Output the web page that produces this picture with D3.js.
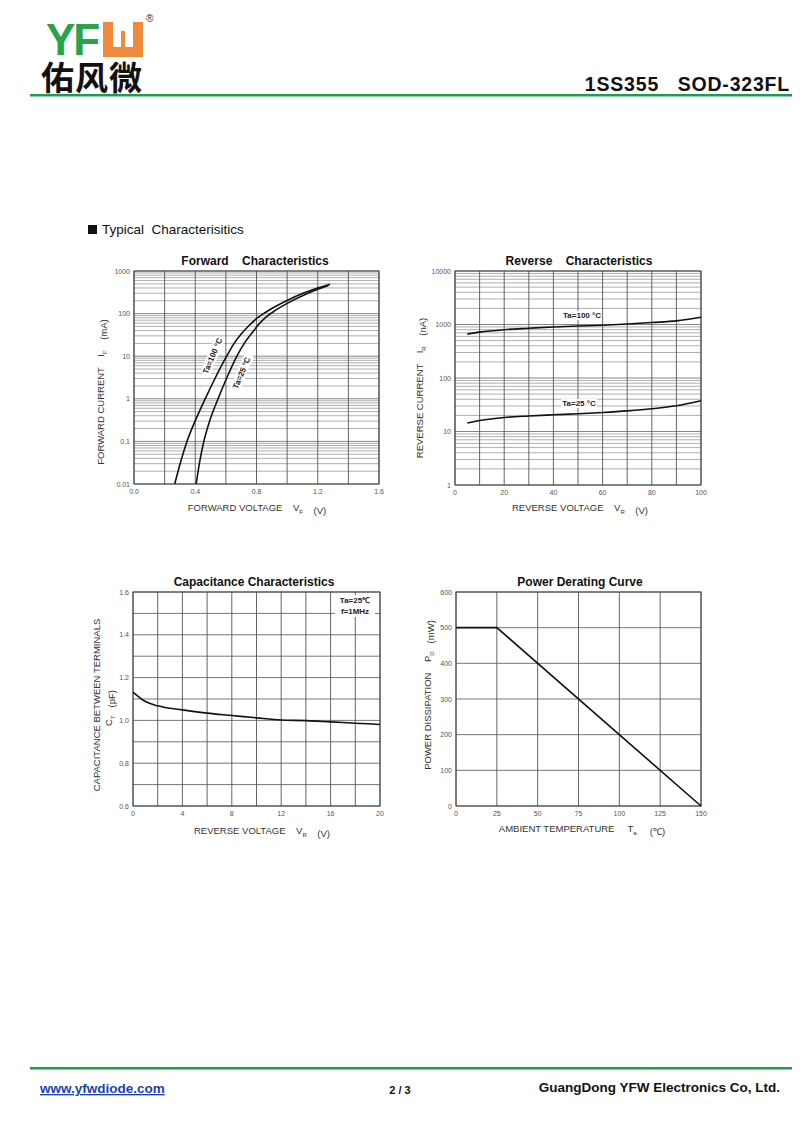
<!DOCTYPE html>
<html>
<head>
<meta charset="utf-8">
<script src="https://cdn.jsdelivr.net/npm/d3@7"></script>
<style>
  html, body { margin: 0; padding: 0; background: #fff; }
  svg { display: block; font-family: "Liberation Sans", Arial, sans-serif; }
  text { white-space: pre; }
</style>
</head>
<body>
<svg id="page" width="800" height="1130"></svg>
<script>
const fwdV100 = [0.266, 0.303, 0.346, 0.402, 0.465, 0.532, 0.605, 0.65, 0.70, 0.75, 0.80, 0.85, 0.90, 1.00, 1.10, 1.20, 1.28];
const fwdI100 = [0.01, 0.0316, 0.1, 0.316, 1, 3.16, 10, 19, 33, 52, 76, 102, 132, 204, 295, 398, 490];
const fwdV25 = [0.406, 0.428, 0.456, 0.496, 0.549, 0.607, 0.672, 0.72, 0.77, 0.82, 0.87, 0.92, 1.00, 1.10, 1.20, 1.27];
const fwdI25 = [0.01, 0.0316, 0.1, 0.316, 1, 3.16, 10, 20, 35, 59, 87, 117, 174, 263, 372, 457];
const fwdXTicks = [0.0, 0.4, 0.8, 1.2, 1.6];
const fwdYTicks = [0.01, 0.1, 1, 10, 100, 1000];
const fwdYLabels = ['0.01', '0.1', '1', '10', '100', '1000'];

const revV = [5, 10, 20, 30, 40, 50, 60, 70, 80, 90, 100];
const rev100 = [660, 720, 800, 850, 900, 935, 968, 1020, 1087, 1167, 1365];
const rev25 = [14.4, 16, 18.3, 19.5, 20.5, 21.5, 22.7, 24.3, 26.6, 30.2, 37.5];
const revXTicks = [0, 20, 40, 60, 80, 100];
const revYTicks = [1, 10, 100, 1000, 10000];

const capV = [0, 1, 2, 4, 6, 8, 10, 12, 14, 16, 18, 20];
const capC = [1.132, 1.088, 1.068, 1.049, 1.034, 1.023, 1.012, 1.002, 0.999, 0.993, 0.987, 0.981];
const capXTicks = [0, 4, 8, 12, 16, 20];
const capYTicks = [0.6, 0.8, 1.0, 1.2, 1.4, 1.6];

const powT = [0, 25, 150];
const powP = [500, 500, 0];
const powXTicks = [0, 25, 50, 75, 100, 125, 150];
const powYTicks = [0, 100, 200, 300, 400, 500, 600];

const GREEN = '#1f9a4e';
const ORANGE = '#ee8a3c';
const svg = d3.select('#page');

// --- En-tête ---
svg.append('text').attr('x', 46).attr('y', 55)
  .style('font-size', '44px').style('font-weight', 'bold').style('fill', '#2aa34a')
  .style('letter-spacing', '-2px').text('YF');
const logoW = svg.append('g');
logoW.append('rect').attr('x', 103).attr('y', 22).attr('width', 40).attr('height', 35).attr('fill', ORANGE);
logoW.append('rect').attr('x', 113).attr('y', 22).attr('width', 20).attr('height', 25).attr('fill', '#fff');
logoW.append('rect').attr('x', 121).attr('y', 31).attr('width', 4).attr('height', 16).attr('fill', ORANGE);
svg.append('text').attr('x', 146).attr('y', 22).style('font-size', '10px').style('fill', '#333').text('®');
svg.append('text').attr('x', 41).attr('y', 90)
  .style('font-family', '"Noto Sans CJK SC", sans-serif').style('font-size', '33px').style('font-weight', 'bold')
  .style('letter-spacing', '1px').style('fill', '#111').text('佑风微');
svg.append('text').attr('x', 790).attr('y', 91).attr('text-anchor', 'end')
  .style('font-size', '19.5px').style('font-weight', 'bold').style('letter-spacing', '0.8px')
  .style('fill', '#111').text('1SS355   SOD-323FL');
svg.append('rect').attr('x', 30).attr('y', 94).attr('width', 762).attr('height', 2.5).attr('fill', GREEN);

svg.append('rect').attr('x', 88).attr('y', 225).attr('width', 9).attr('height', 9).attr('fill', '#111');
svg.append('text').attr('x', 102).attr('y', 234).style('font-size', '13.5px').style('fill', '#111')
  .text('Typical  Characterisitics');

// --- Pied de page ---
svg.append('rect').attr('x', 30).attr('y', 1067).attr('width', 762).attr('height', 2.5).attr('fill', GREEN);
svg.append('text').attr('x', 40).attr('y', 1093).style('font-size', '13.5px').style('font-weight', 'bold')
  .style('fill', '#1a3fb8').style('text-decoration', 'underline').text('www.yfwdiode.com');
svg.append('text').attr('x', 400).attr('y', 1094).attr('text-anchor', 'middle')
  .style('font-size', '11px').style('font-weight', 'bold').style('fill', '#111').text('2 / 3');
svg.append('text').attr('x', 780).attr('y', 1092).attr('text-anchor', 'end')
  .style('font-size', '13.5px').style('font-weight', 'bold').style('fill', '#111')
  .text('GuangDong YFW Electronics Co, Ltd.');

// Texte avec indice (V_F, I_R ...)
function labelWithSub(g, parts, attrs) {
  const t = g.append('text').style('font-size', '9.5px').style('fill', '#333');
  Object.entries(attrs).forEach(([k, v]) => t.attr(k, v));
  parts.forEach(p => {
    if (p.sub) {
      t.append('tspan').attr('dy', 3).style('font-size', '6px').text(p.sub);
      t.append('tspan').attr('dy', -3).text('');
    } else {
      t.append('tspan').text(p.t);
    }
  });
  return t;
}

function panel(opt) {
  const g = svg.append('g');
  const x = d3.scaleLinear().domain(opt.xDomain).range([opt.x0, opt.x1]);
  const y = (opt.log ? d3.scaleLog() : d3.scaleLinear()).domain(opt.yDomain).range([opt.y1, opt.y0]);

  // grille horizontale
  let hLines;
  if (opt.log) {
    hLines = [];
    const [lo, hi] = opt.yDomain;
    for (let d = lo; d < hi; d *= 10) for (let k = 2; k <= 9; k++) hLines.push(d * k);
  } else {
    hLines = d3.range(opt.yDomain[0], opt.yDomain[1] + opt.yStep / 2, opt.yStep);
  }
  g.selectAll('line.h').data(hLines).enter().append('line')
    .attr('x1', opt.x0).attr('x2', opt.x1)
    .attr('y1', d => y(d)).attr('y2', d => y(d))
    .attr('stroke', opt.log ? '#9a9a9a' : '#666').attr('stroke-width', opt.log ? 0.8 : 0.9);
  if (opt.log) {
    g.selectAll('line.dec').data(opt.yTicks).enter().append('line')
      .attr('x1', opt.x0).attr('x2', opt.x1)
      .attr('y1', d => y(d)).attr('y2', d => y(d))
      .attr('stroke', '#777').attr('stroke-width', 0.9);
  }
  const vLines = d3.range(opt.xDomain[0], opt.xDomain[1] + opt.xStep / 2, opt.xStep);
  g.selectAll('line.v').data(vLines).enter().append('line')
    .attr('x1', d => x(d)).attr('x2', d => x(d))
    .attr('y1', opt.y0).attr('y2', opt.y1)
    .attr('stroke', '#555').attr('stroke-width', 0.9);
  g.append('rect').attr('x', opt.x0).attr('y', opt.y0)
    .attr('width', opt.x1 - opt.x0).attr('height', opt.y1 - opt.y0)
    .attr('fill', 'none').attr('stroke', '#444').attr('stroke-width', 1);

  // graduations
  g.selectAll('text.xt').data(opt.xTicks).enter().append('text')
    .attr('x', d => x(d)).attr('y', opt.y1 + 10).attr('text-anchor', 'middle')
    .style('font-size', '7px').style('fill', '#555').text((d, i) => opt.xLabels[i]);
  g.selectAll('text.yt').data(opt.yTicks).enter().append('text')
    .attr('x', opt.x0 - 4).attr('y', d => y(d) + 2.5).attr('text-anchor', 'end')
    .style('font-size', '7px').style('fill', '#555').text((d, i) => opt.yLabels[i]);

  // titre
  g.append('text').attr('x', opt.titleX).attr('y', opt.y0 - 6).attr('text-anchor', 'middle')
    .style('font-size', '12px').style('font-weight', 'bold').style('fill', '#111').text(opt.title);

  // courbes
  const smooth = d3.line().x(d => x(d[0])).y(d => y(d[1])).curve(d3.curveMonotoneX);
  const straight = d3.line().x(d => x(d[0])).y(d => y(d[1]));
  opt.series.forEach(s => {
    g.append('path').datum(d3.zip(s.xs, s.ys)).attr('d', s.straight ? straight : smooth)
      .attr('fill', 'none').attr('stroke', '#111').attr('stroke-width', 1.6);
  });
  return { g, x, y };
}

// --- Caractéristique directe ---
const fwd = panel({
  x0: 134, x1: 379, y0: 271, y1: 484, log: true,
  xDomain: [0, 1.6], xStep: 0.2, yDomain: [0.01, 1000],
  xTicks: fwdXTicks, xLabels: fwdXTicks.map(d => d.toFixed(1)),
  yTicks: fwdYTicks, yLabels: fwdYLabels,
  title: 'Forward    Characteristics', titleX: 255,
  series: [{ xs: fwdV100, ys: fwdI100 }, { xs: fwdV25, ys: fwdI25 }]
});
[['Ta=100 °C', 215, 357], ['Ta=25 °C', 244, 374]].forEach(([t, cx, cy]) => {
  const lg = fwd.g.append('g').attr('transform', `translate(${cx},${cy}) rotate(-67)`);
  lg.append('rect').attr('x', -20).attr('y', -7.5).attr('width', 40).attr('height', 10).attr('fill', '#fff');
  lg.append('text').attr('text-anchor', 'middle').attr('y', 0)
    .style('font-size', '8px').style('font-weight', 'bold').style('fill', '#222').text(t);
});
labelWithSub(fwd.g, [{ t: 'FORWARD VOLTAGE    V' }, { sub: 'F' }, { t: '    (V)' }],
  { x: 257, y: 511, 'text-anchor': 'middle' });
labelWithSub(fwd.g, [{ t: 'FORWARD CURRENT    I' }, { sub: 'F' }, { t: '    (mA)' }],
  { x: 0, y: 0, 'text-anchor': 'middle', transform: 'translate(104,392) rotate(-90)' });

// --- Caractéristique inverse ---
const rev = panel({
  x0: 455, x1: 701, y0: 271, y1: 485, log: true,
  xDomain: [0, 100], xStep: 10, yDomain: [1, 10000],
  xTicks: revXTicks, xLabels: revXTicks.map(String),
  yTicks: revYTicks, yLabels: revYTicks.map(String),
  title: 'Reverse    Characteristics', titleX: 579,
  series: [{ xs: revV, ys: rev100 }, { xs: revV, ys: rev25 }]
});
[['Ta=100 °C', 582, 318], ['Ta=25 °C', 579, 406]].forEach(([t, cx, cy]) => {
  rev.g.append('rect').attr('x', cx - 18).attr('y', cy - 7).attr('width', 36).attr('height', 9).attr('fill', '#fff');
  rev.g.append('text').attr('x', cx).attr('y', cy).attr('text-anchor', 'middle')
    .style('font-size', '8px').style('font-weight', 'bold').style('fill', '#222').text(t);
});
labelWithSub(rev.g, [{ t: 'REVERSE VOLTAGE    V' }, { sub: 'R' }, { t: '    (V)' }],
  { x: 580, y: 511, 'text-anchor': 'middle' });
labelWithSub(rev.g, [{ t: 'REVERSE CURRENT    I' }, { sub: 'R' }, { t: '    (nA)' }],
  { x: 0, y: 0, 'text-anchor': 'middle', transform: 'translate(423,388) rotate(-90)' });

// --- Capacité ---
const cap = panel({
  x0: 133, x1: 380, y0: 592, y1: 806, log: false,
  xDomain: [0, 20], xStep: 2, yDomain: [0.6, 1.6], yStep: 0.1,
  xTicks: capXTicks, xLabels: capXTicks.map(String),
  yTicks: capYTicks, yLabels: capYTicks.map(d => d.toFixed(1)),
  title: 'Capacitance Characteristics', titleX: 254,
  series: [{ xs: capV, ys: capC }]
});
cap.g.append('rect').attr('x', 335).attr('y', 595).attr('width', 40).attr('height', 22).attr('fill', '#fff');
cap.g.append('text').attr('x', 355).attr('y', 603).attr('text-anchor', 'middle')
  .style('font-size', '8px').style('font-weight', 'bold').style('fill', '#222').text('Ta=25℃');
cap.g.append('text').attr('x', 355).attr('y', 614).attr('text-anchor', 'middle')
  .style('font-size', '8px').style('font-weight', 'bold').style('fill', '#222').text('f=1MHz');
labelWithSub(cap.g, [{ t: 'REVERSE VOLTAGE    V' }, { sub: 'R' }, { t: '    (V)' }],
  { x: 262, y: 834, 'text-anchor': 'middle' });
labelWithSub(cap.g, [{ t: 'CAPACITANCE BETWEEN TERMINALS' }],
  { x: 0, y: 0, 'text-anchor': 'middle', transform: 'translate(100,705) rotate(-90)' });
labelWithSub(cap.g, [{ t: 'C' }, { sub: 'T' }, { t: '   (pF)' }],
  { x: 0, y: 0, 'text-anchor': 'middle', transform: 'translate(112,708) rotate(-90)' });

// --- Courbe de déclassement ---
const pow = panel({
  x0: 456, x1: 701, y0: 592, y1: 806, log: false,
  xDomain: [0, 150], xStep: 25, yDomain: [0, 600], yStep: 100,
  xTicks: powXTicks, xLabels: powXTicks.map(String),
  yTicks: powYTicks, yLabels: powYTicks.map(String),
  title: 'Power Derating Curve', titleX: 580,
  series: [{ xs: powT, ys: powP, straight: true }]
});
labelWithSub(pow.g, [{ t: 'AMBIENT TEMPERATURE     T' }, { sub: 'a' }, { t: '     (℃)' }],
  { x: 582, y: 832, 'text-anchor': 'middle' });
labelWithSub(pow.g, [{ t: 'POWER DISSIPATION    P' }, { sub: 'D' }, { t: '   (mW)' }],
  { x: 0, y: 0, 'text-anchor': 'middle', transform: 'translate(431,695) rotate(-90)' });
</script>
</body>
</html>
